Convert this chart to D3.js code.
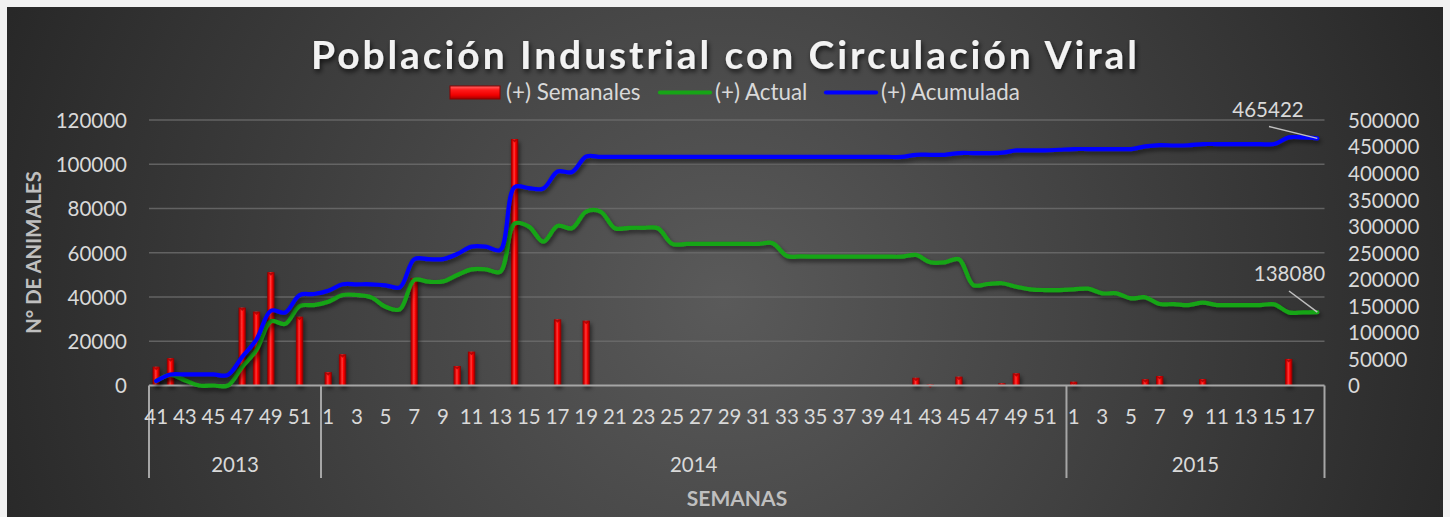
<!DOCTYPE html>
<html><head><meta charset="utf-8">
<script src="https://cdn.jsdelivr.net/npm/d3@7"></script>
<style>html,body{margin:0;padding:0;background:#f2f2f2;overflow:hidden;} svg{display:block;}</style>
</head><body><svg id="c" width="1450" height="517"></svg>
<script>
// ---------------- DATA ----------------
const years = ["2013", "2014", "2015"];
const weeks2013 = [41,42,43,44,45,46,47,48,49,50,51,52];
const weeks2014 = [1,2,3,4,5,6,7,8,9,10,11,12,13,14,15,16,17,18,19,20,21,22,23,24,25,26,
                   27,28,29,30,31,32,33,34,35,36,37,38,39,40,41,42,43,44,45,46,47,48,49,50,51,52];
const weeks2015 = [1,2,3,4,5,6,7,8,9,10,11,12,13,14,15,16,17,18];

// (+) Semanales  (left axis)
const semanales = [
  8500,12300,0,0,0,0,35200,33400,51200,0,31100,0,
  6000,14100,0,0,0,0,48500,0,0,8800,15300,0,0,111400,0,0,29900,0,29300,0,
  0,0,0,0,0,0,0,0,0,0,0,0,0,0,0,0,0,0,0,0,0,3500,500,0,4000,0,0,1000,5500,0,0,0,
  1700,0,0,0,0,2800,4300,0,0,2900,0,0,0,0,0,12000,0,0
];
// (+) Actual  (right axis)
const actual = [
  8500,20000,10000,0,0,0,35000,67000,121000,116000,149600,151500,
  157700,170400,170400,166000,148300,143400,198700,195500,196000,208000,218800,218800,214300,305000,299300,271000,300600,296200,327500,327500,
  296200,297000,297000,296200,266600,266600,266600,266600,266600,266600,266600,268000,244000,243000,242700,242700,242700,242700,242700,242700,242700,245900,232000,232000,237700,189200,191100,192500,186000,181100,179800,179800,
  181100,182300,173600,173600,164100,166000,153400,153400,151500,155900,151500,151500,151500,151500,152800,137700,137700,138080
];
// (+) Acumulada  (right axis)
const acumulada = [
  8500,20800,20800,20800,20800,20000,54000,87000,140800,137500,170400,172300,
  178500,190600,190600,190600,188700,185000,237700,238000,238000,247700,261500,261500,255300,373600,371700,371000,403000,402000,431300,430500,
  430500,430500,430500,430500,430500,430500,430500,430500,430500,430500,430500,430500,430500,430500,430500,430500,430500,430500,430500,430500,430500,434500,434500,434500,437700,437700,437700,438500,442700,442700,442700,444000,
  445300,445300,445300,445300,445300,450200,452800,452000,452500,454700,454700,454700,454700,454700,454700,467200,467200,465422
];
const leftTicks = [0,20000,40000,60000,80000,100000,120000];
const rightTicks = [0,50000,100000,150000,200000,250000,300000,350000,400000,450000,500000];
const seriesNames = ["(+) Semanales", "(+) Actual", "(+) Acumulada"];
const titleText = "Población Industrial con Circulación Viral";
const yTitle = "N° DE ANIMALES";
const xTitle = "SEMANAS";

// ---------------- BUILD ----------------
const groups = [
  {year: years[0], weeks: weeks2013},
  {year: years[1], weeks: weeks2014},
  {year: years[2], weeks: weeks2015}
];
const cats = [];
groups.forEach(g => g.weeks.forEach(w => cats.push({key: g.year + "-" + w, year: g.year, week: w})));

const svg = d3.select("#c");
const defs = svg.append("defs");

const bg = defs.append("radialGradient").attr("id", "bg").attr("gradientUnits", "userSpaceOnUse")
  .attr("cx", 724).attr("cy", 300).attr("r", 800);
bg.append("stop").attr("offset", 0).attr("stop-color", "#5a5a5a");
bg.append("stop").attr("offset", 1).attr("stop-color", "#262626");

const barG = defs.append("linearGradient").attr("id", "barG").attr("x1", 0).attr("x2", 1).attr("y1", 0).attr("y2", 0);
[[0, "#800000"], [0.22, "#d90000"], [0.45, "#ff3a3a"], [0.65, "#ff0000"], [1, "#7a0000"]]
  .forEach(s => barG.append("stop").attr("offset", s[0]).attr("stop-color", s[1]));

const legG = defs.append("linearGradient").attr("id", "legG").attr("x1", 0).attr("x2", 0).attr("y1", 0).attr("y2", 1);
[[0, "#ff6a6a"], [0.3, "#ff1a1a"], [0.7, "#f00000"], [1, "#a00000"]]
  .forEach(s => legG.append("stop").attr("offset", s[0]).attr("stop-color", s[1]));

const sh = defs.append("filter").attr("id", "sh").attr("x", "-10%").attr("y", "-10%").attr("width", "120%").attr("height", "130%");
sh.append("feDropShadow").attr("dx", 1.5).attr("dy", 3).attr("stdDeviation", 2)
  .attr("flood-color", "#000").attr("flood-opacity", 0.55);
const tsh = defs.append("filter").attr("id", "tsh").attr("x", "-5%").attr("y", "-20%").attr("width", "110%").attr("height", "150%");
tsh.append("feDropShadow").attr("dx", 1.5).attr("dy", 3).attr("stdDeviation", 2.5)
  .attr("flood-color", "#000").attr("flood-opacity", 0.7);

svg.append("rect").attr("x", 7).attr("y", 7).attr("width", 1436).attr("height", 520).attr("fill", "url(#bg)");

const X0 = 149, X1 = 1324.5, YB = 385.5, YT = 120;
const x = d3.scaleBand().domain(cats.map(c => c.key)).range([X0, X1]).paddingInner(0).paddingOuter(0);
const yL = d3.scaleLinear().domain([0, 120000]).range([YB, YT]);
const yR = d3.scaleLinear().domain([0, 500000]).range([YB, YT]);
const cx = k => x(k) + x.bandwidth() / 2;

const labCol = "#d9d9d9";
const font = "Lato, 'Open Sans', sans-serif";

// gridlines
svg.append("g").selectAll("line").data(leftTicks.filter(t => t > 0)).join("line")
  .attr("x1", X0).attr("x2", X1).attr("y1", d => yL(d)).attr("y2", d => yL(d))
  .attr("stroke", "#6e6e6e").attr("stroke-opacity", 0.8).attr("stroke-width", 1.5);

// left axis
const axL = svg.append("g").attr("transform", `translate(${X0 - 22},0)`)
  .call(d3.axisLeft(yL).tickValues(leftTicks).tickSize(0).tickPadding(0).tickFormat(d3.format("d")));
axL.select(".domain").remove();
axL.selectAll("text").attr("fill", labCol).attr("font-family", font).attr("font-size", "20.5px").attr("dy", "0.36em");

// right axis
const axR = svg.append("g").attr("transform", `translate(${X1 + 23.5},0)`)
  .call(d3.axisRight(yR).tickValues(rightTicks).tickSize(0).tickPadding(0).tickFormat(d3.format("d")));
axR.select(".domain").remove();
axR.selectAll("text").attr("fill", labCol).attr("font-family", font).attr("font-size", "20.5px").attr("dy", "0.36em");

// bars
const bw = 7.3;
svg.append("g").attr("filter", "url(#sh)").selectAll("rect").data(cats.map((c, i) => ({c, v: semanales[i]})).filter(d => d.v > 0)).join("rect")
  .attr("x", d => cx(d.c.key) - bw / 2).attr("width", bw)
  .attr("y", d => yL(d.v)).attr("height", d => YB - yL(d.v))
  .attr("fill", "url(#barG)");
// bar top caps
svg.append("g").selectAll("path").data(cats.map((c, i) => ({c, v: semanales[i]})).filter(d => d.v > 0)).join("path")
  .attr("d", d => { const xc = cx(d.c.key), yt = yL(d.v); return `M${xc - 3},${yt + 0.5} L${xc + 3},${yt + 0.5} L${xc},${yt + 3.5} Z`; })
  .attr("fill", "#a00000").attr("opacity", 0.8);

// x axis line
svg.append("line").attr("x1", X0).attr("x2", X1).attr("y1", YB).attr("y2", YB)
  .attr("stroke", "#a6a6a6").attr("stroke-width", 2);

// group separators
const bounds = [X0];
groups.forEach(g => bounds.push(x(g.year + "-" + g.weeks[g.weeks.length - 1]) + x.bandwidth()));
svg.append("g").selectAll("line").data(bounds).join("line")
  .attr("x1", d => d).attr("x2", d => d).attr("y1", YB).attr("y2", 478)
  .attr("stroke", "#a6a6a6").attr("stroke-width", 2);

// week tick labels
svg.append("g").selectAll("text").data(cats.filter((c, i) => i % 2 === 0)).join("text")
  .attr("x", d => cx(d.key)).attr("y", 424).attr("text-anchor", "middle")
  .attr("fill", labCol).attr("font-family", font).attr("font-size", "20.5px").text(d => d.week);

// year labels
svg.append("g").selectAll("text").data(groups).join("text")
  .attr("x", (g, i) => (bounds[i] + bounds[i + 1]) / 2).attr("y", 472).attr("text-anchor", "middle")
  .attr("fill", labCol).attr("font-family", font).attr("font-size", "20.5px").text(g => g.year);

// lines
const line = yS => d3.line().x((d, i) => cx(cats[i].key)).y(d => yS(d)).curve(d3.curveCatmullRom.alpha(0.5));
svg.append("path").datum(actual).attr("d", line(yR)).attr("fill", "none")
  .attr("stroke", "#16a516").attr("stroke-width", 4.2).attr("stroke-linejoin", "round").attr("stroke-linecap", "round").attr("filter", "url(#sh)");
svg.append("path").datum(acumulada).attr("d", line(yR)).attr("fill", "none")
  .attr("stroke", "#0000ff").attr("stroke-width", 4.2).attr("stroke-linejoin", "round").attr("stroke-linecap", "round").attr("filter", "url(#sh)");

// data labels with leader lines
const last = cats.length - 1;
const lx = cx(cats[last].key);
svg.append("line").attr("x1", 1269).attr("y1", 126.5).attr("x2", lx).attr("y2", yR(acumulada[last]))
  .attr("stroke", "#bfbfbf").attr("stroke-width", 1.5);
svg.append("text").attr("x", 1268).attr("y", 116.5).attr("text-anchor", "middle").attr("fill", labCol)
  .attr("font-family", font).attr("font-size", "20.5px").text(d3.format("d")(acumulada[last]));
svg.append("line").attr("x1", 1289).attr("y1", 291).attr("x2", lx).attr("y2", yR(actual[last]))
  .attr("stroke", "#bfbfbf").attr("stroke-width", 1.5);
svg.append("text").attr("x", 1289.5).attr("y", 280.5).attr("text-anchor", "middle").attr("fill", labCol)
  .attr("font-family", font).attr("font-size", "20.5px").text(d3.format("d")(actual[last]));

// title
svg.append("text").attr("x", 724).attr("y", 69).attr("text-anchor", "middle")
  .attr("fill", "#f2f2f2").attr("font-family", font).attr("font-weight", "bold").attr("font-size", "39px")
  .attr("textLength", 826).attr("lengthAdjust", "spacing").attr("filter", "url(#tsh)").text(titleText);

// legend
const lg = svg.append("g");
const lfs = "22.4px";
lg.append("rect").attr("x", 450).attr("y", 86).attr("width", 50).attr("height", 13)
  .attr("fill", "url(#legG)").attr("stroke", "#8a0000").attr("stroke-width", 1);
lg.append("text").attr("x", 506).attr("y", 100).attr("fill", labCol).attr("font-family", font).attr("font-size", lfs).text(seriesNames[0]);
lg.append("line").attr("x1", 660).attr("x2", 710).attr("y1", 92.5).attr("y2", 92.5).attr("stroke", "#16a516").attr("stroke-width", 4.2).attr("stroke-linecap", "round");
lg.append("text").attr("x", 715).attr("y", 100).attr("fill", labCol).attr("font-family", font).attr("font-size", lfs).text(seriesNames[1]);
lg.append("line").attr("x1", 826).attr("x2", 876).attr("y1", 92.5).attr("y2", 92.5).attr("stroke", "#0000ff").attr("stroke-width", 4.2).attr("stroke-linecap", "round");
lg.append("text").attr("x", 881).attr("y", 100).attr("fill", labCol).attr("font-family", font).attr("font-size", lfs).text(seriesNames[2]);

// axis titles
svg.append("text").attr("transform", "translate(41,252.5) rotate(-90)").attr("text-anchor", "middle")
  .attr("fill", "#bfbfbf").attr("font-family", font).attr("font-weight", "bold").attr("font-size", "20.3px").text(yTitle);
svg.append("text").attr("x", 737).attr("y", 506).attr("text-anchor", "middle")
  .attr("fill", "#bfbfbf").attr("font-family", font).attr("font-weight", "bold").attr("font-size", "21px").text(xTitle);
</script></body></html>
